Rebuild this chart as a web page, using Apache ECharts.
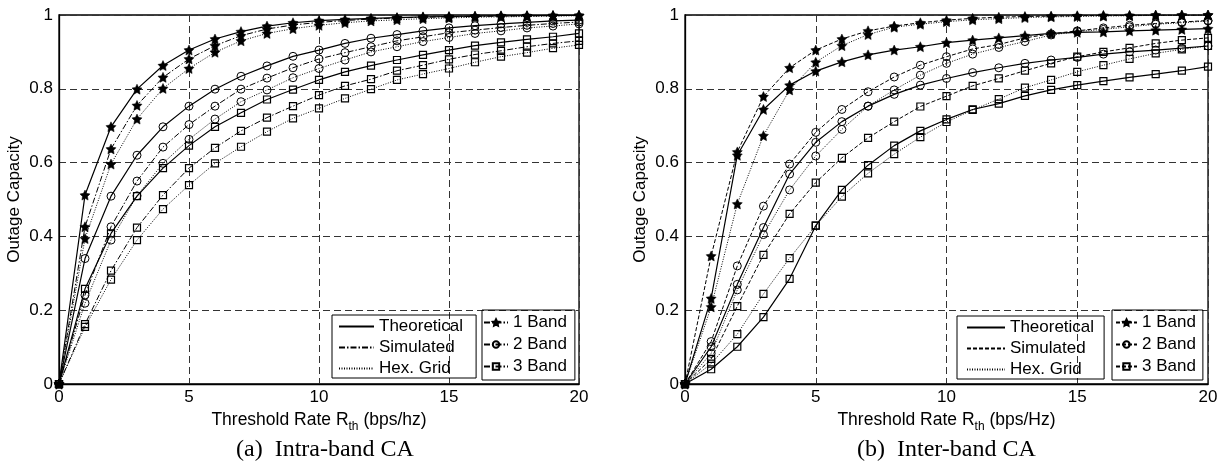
<!DOCTYPE html>
<html>
<head>
<meta charset="utf-8">
<script src="https://cdn.jsdelivr.net/npm/echarts@6/dist/echarts.min.js"></script>
<style>
  html, body { margin: 0; padding: 0; background: #fff; }
  #chart { width: 1222px; height: 469px; }
</style>
</head>
<body>
<div id="chart"></div>
<script>
// Threshold rate R_th (bps/Hz) sampled at integer steps
const rates = [0,1,2,3,4,5,6,7,8,9,10,11,12,13,14,15,16,17,18,19,20];

// (a) Intra-band CA — outage capacity
const intraTheo1 = [0, 0.512, 0.697, 0.799, 0.863, 0.905, 0.935, 0.955, 0.970, 0.979, 0.985, 0.988, 0.991, 0.993, 0.995, 0.996, 0.997, 0.998, 0.998, 0.999, 0.999];
const intraSim1  = [0, 0.426, 0.637, 0.755, 0.831, 0.881, 0.917, 0.944, 0.962, 0.973, 0.980, 0.985, 0.989, 0.992, 0.994, 0.995, 0.996, 0.997, 0.998, 0.998, 0.999];
const intraHex1  = [0, 0.394, 0.596, 0.718, 0.801, 0.855, 0.899, 0.930, 0.950, 0.963, 0.972, 0.979, 0.984, 0.987, 0.990, 0.992, 0.994, 0.995, 0.996, 0.997, 0.998];
const intraTheo2 = [0, 0.340, 0.509, 0.620, 0.697, 0.753, 0.799, 0.834, 0.862, 0.888, 0.905, 0.923, 0.937, 0.947, 0.957, 0.965, 0.971, 0.976, 0.980, 0.984, 0.986];
const intraSim2  = [0, 0.241, 0.426, 0.550, 0.642, 0.703, 0.753, 0.799, 0.829, 0.857, 0.881, 0.898, 0.914, 0.930, 0.941, 0.952, 0.959, 0.966, 0.972, 0.977, 0.981];
const intraHex2  = [0, 0.219, 0.390, 0.510, 0.598, 0.663, 0.718, 0.765, 0.797, 0.830, 0.855, 0.878, 0.900, 0.914, 0.928, 0.939, 0.950, 0.957, 0.965, 0.970, 0.976];
const intraTheo3 = [0, 0.258, 0.408, 0.509, 0.585, 0.646, 0.697, 0.735, 0.771, 0.798, 0.824, 0.846, 0.863, 0.878, 0.892, 0.905, 0.917, 0.926, 0.934, 0.941, 0.950];
const intraSim3  = [0, 0.162, 0.307, 0.424, 0.512, 0.585, 0.640, 0.686, 0.722, 0.753, 0.783, 0.808, 0.826, 0.849, 0.864, 0.880, 0.893, 0.903, 0.914, 0.923, 0.930];
const intraHex3  = [0, 0.155, 0.283, 0.390, 0.474, 0.539, 0.598, 0.643, 0.684, 0.720, 0.747, 0.774, 0.799, 0.824, 0.840, 0.855, 0.872, 0.887, 0.898, 0.910, 0.919];

// (b) Inter-band CA — outage capacity
const interTheo1 = [0, 0.232, 0.620, 0.744, 0.810, 0.848, 0.873, 0.892, 0.905, 0.914, 0.925, 0.932, 0.938, 0.944, 0.950, 0.953, 0.954, 0.957, 0.959, 0.961, 0.963];
const interSim1  = [0, 0.347, 0.629, 0.779, 0.857, 0.905, 0.935, 0.957, 0.970, 0.979, 0.986, 0.991, 0.994, 0.996, 0.997, 0.998, 0.999, 0.999, 1.000, 1.000, 1.000];
const interHex1  = [0, 0.209, 0.488, 0.673, 0.797, 0.872, 0.917, 0.947, 0.967, 0.975, 0.982, 0.987, 0.990, 0.993, 0.995, 0.996, 0.997, 0.998, 0.999, 0.999, 1.000];
const interTheo2 = [0, 0.101, 0.270, 0.424, 0.569, 0.655, 0.711, 0.753, 0.785, 0.810, 0.828, 0.844, 0.857, 0.869, 0.878, 0.885, 0.894, 0.900, 0.905, 0.910, 0.916];
const interSim2  = [0, 0.115, 0.320, 0.482, 0.596, 0.682, 0.744, 0.792, 0.832, 0.864, 0.887, 0.908, 0.920, 0.938, 0.949, 0.957, 0.965, 0.972, 0.977, 0.981, 0.985];
const interHex2  = [0, 0.083, 0.255, 0.405, 0.526, 0.618, 0.690, 0.753, 0.797, 0.837, 0.869, 0.894, 0.912, 0.928, 0.946, 0.955, 0.961, 0.968, 0.975, 0.979, 0.984];
const interTheo3 = [0, 0.040, 0.101, 0.181, 0.285, 0.429, 0.526, 0.593, 0.646, 0.686, 0.717, 0.744, 0.760, 0.781, 0.797, 0.810, 0.821, 0.831, 0.840, 0.849, 0.860];
const interSim3  = [0, 0.068, 0.211, 0.350, 0.461, 0.546, 0.613, 0.667, 0.711, 0.752, 0.780, 0.808, 0.828, 0.849, 0.869, 0.887, 0.900, 0.911, 0.923, 0.932, 0.938];
const interHex3  = [0, 0.055, 0.135, 0.244, 0.341, 0.429, 0.508, 0.571, 0.623, 0.669, 0.710, 0.743, 0.772, 0.803, 0.824, 0.846, 0.864, 0.881, 0.896, 0.907, 0.916];

// Legend / caption text
const styleLabels = ['Theoretical', 'Simulated', 'Hex. Grid'];
const bandLabels = ['1 Band', '2 Band', '3 Band'];
const captions = ['(a)  Intra-band CA', '(b)  Inter-band CA'];
const xNameUnits = ['(bps/hz)', '(bps/Hz)'];
const yName = 'Outage Capacity';

const SANS = 'Liberation Sans, Arial, sans-serif';
const SERIF = 'Liberation Serif, Times New Roman, serif';
const STAR = 'path://M0,-10L2.94,-4.05L9.51,-3.09L4.76,1.55L5.88,8.09L0,5L-5.88,8.09L-4.76,1.55L-9.51,-3.09L-2.94,-4.05Z';

const markers = [
  { symbol: STAR, size: 10, item: { color: '#000', borderColor: '#000', borderWidth: 0.5 } },
  { symbol: 'circle', size: 8, item: { color: 'rgba(0,0,0,0)', borderColor: '#000', borderWidth: 1 } },
  { symbol: 'rect', size: 7, item: { color: 'rgba(0,0,0,0)', borderColor: '#000', borderWidth: 1.2 } }
];

const DASHDOT = [6, 2, 1.5, 2];
const DASHED = [4, 2];
const DOTTED = [1, 1.5];
const lineTypes = [
  ['solid', DASHDOT, DOTTED],   // intra-band
  ['solid', DASHED, DOTTED]     // inter-band
];

const panels = [
  [[intraTheo1, intraSim1, intraHex1], [intraTheo2, intraSim2, intraHex2], [intraTheo3, intraSim3, intraHex3]],
  [[interTheo1, interSim1, interHex1], [interTheo2, interSim2, interHex2], [interTheo3, interSim3, interHex3]]
];

const pairs = ys => rates.map((x, i) => [x, ys[i]]);

const series = [];
const legendNames = {};
panels.forEach((bands, p) => {
  bands.forEach((curves, b) => {
    curves.forEach((ys, k) => {
      series.push({
        type: 'line',
        xAxisIndex: p, yAxisIndex: p,
        data: pairs(ys),
        symbol: markers[b].symbol,
        symbolSize: markers[b].size,
        showAllSymbol: true,
        itemStyle: markers[b].item,
        lineStyle: { color: '#000', width: k === 0 ? 1.2 : 1, type: lineTypes[p][k] },
        emphasis: { disabled: true },
        silent: true,
        z: 3
      });
    });
  });
  // legend-only entries: line styles (marker kept invisible)
  styleLabels.forEach((lab, k) => {
    const id = 'style-' + p + '-' + k;
    legendNames[id] = lab;
    series.push({
      type: 'line', name: id, xAxisIndex: p, yAxisIndex: p, data: [],
      symbol: 'circle',
      lineStyle: { color: '#000', width: 1, type: lineTypes[p][k] },
      itemStyle: { color: 'rgba(0,0,0,0)', borderColor: 'rgba(0,0,0,0)', borderWidth: 0 }
    });
  });
  // legend-only entries: markers
  bandLabels.forEach((lab, b) => {
    const id = 'band-' + p + '-' + b;
    legendNames[id] = lab;
    series.push({
      type: 'line', name: id, xAxisIndex: p, yAxisIndex: p, data: [],
      symbol: markers[b].symbol,
      symbolSize: markers[b].size,
      itemStyle: markers[b].item,
      lineStyle: { color: '#000', width: 1, type: p === 0 ? DASHDOT : DASHED }
    });
  });
});

const legendCommon = {
  orient: 'vertical',
  selectedMode: false,
  backgroundColor: 'transparent',
  borderColor: '#000',
  borderWidth: 1,
  borderRadius: 0,
  textStyle: { fontFamily: SANS, fontSize: 17, color: '#000' },
  formatter: n => legendNames[n]
};

const legends = [
  Object.assign({}, legendCommon, {
    data: styleLabels.map((_, k) => 'style-0-' + k),
    left: 332, top: 315, itemWidth: 35, itemHeight: 10, itemGap: 4,
    padding: [3, 13, 1, 6]
  }),
  Object.assign({}, legendCommon, {
    data: bandLabels.map((_, b) => 'band-0-' + b),
    left: 482, top: 310, itemWidth: 24, itemHeight: 8, itemGap: 5,
    padding: [4, 8, 5, 1]
  }),
  Object.assign({}, legendCommon, {
    data: styleLabels.map((_, k) => 'style-1-' + k),
    left: 957, top: 316, itemWidth: 38, itemHeight: 10, itemGap: 4,
    padding: [3, 10, 1, 9]
  }),
  Object.assign({}, legendCommon, {
    data: bandLabels.map((_, b) => 'band-1-' + b),
    left: 1112, top: 310, itemWidth: 21, itemHeight: 8, itemGap: 5,
    padding: [4, 7, 5, 3]
  })
];

const grids = [
  { left: 59, top: 15, width: 520, height: 369 },
  { left: 685, top: 15, width: 523, height: 369 }
].map(g => Object.assign(g, { show: true, borderColor: '#000', borderWidth: 1.3, backgroundColor: 'transparent' }));

const splitLine = { show: true, lineStyle: { color: '#333', width: 1, type: [7, 4] } };

const xAxes = [0, 1].map(p => ({
  type: 'value', gridIndex: p, min: 0, max: 20, interval: 5,
  axisLine: { show: true, lineStyle: { color: '#000', width: 1.3 } },
  axisTick: { show: false },
  splitLine: splitLine,
  axisLabel: { fontFamily: SANS, fontSize: 17, color: '#000', margin: 5 },
  name: '{t|Threshold Rate R}{s|th}{t| ' + xNameUnits[p] + '}',
  nameLocation: 'middle',
  nameGap: 19,
  nameTextStyle: {
    verticalAlign: 'top',
    rich: {
      t: { fontFamily: SANS, fontSize: 17.5, color: '#000', verticalAlign: 'top' },
      s: { fontFamily: SANS, fontSize: 12, color: '#000', padding: [10, 0, 0, 0], verticalAlign: 'top' }
    }
  }
}));

const yAxes = [0, 1].map(p => ({
  type: 'value', gridIndex: p, min: 0, max: 1, interval: 0.2,
  axisLine: { show: true, lineStyle: { color: '#000', width: 1.3 } },
  axisTick: { show: false },
  splitLine: splitLine,
  axisLabel: {
    fontFamily: SANS, fontSize: 17, color: '#000', margin: 6,
    formatter: v => (v === 0 ? '0' : v === 1 ? '1' : v.toFixed(1))
  },
  name: yName,
  nameLocation: 'middle',
  nameGap: 36,
  nameTextStyle: { fontFamily: SANS, fontSize: 17, color: '#000' }
}));

const chart = echarts.init(document.getElementById('chart'), null, { renderer: 'canvas' });
chart.setOption({
  animation: false,
  backgroundColor: '#fff',
  grid: grids,
  xAxis: xAxes,
  yAxis: yAxes,
  legend: legends,
  series: series,
  graphic: captions.map((c, p) => ({
    type: 'text',
    left: p === 0 ? 236 : 857,
    top: 438,
    style: { text: c, fontFamily: SERIF, fontSize: 24, fill: '#000' }
  }))
});
</script>
</body>
</html>
